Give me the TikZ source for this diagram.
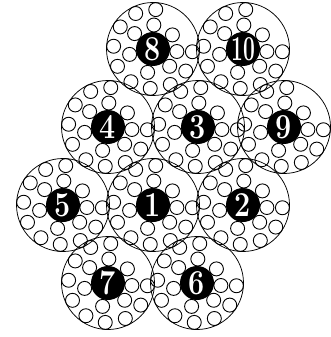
\documentclass[tikz,border=0pt]{standalone}
\usetikzlibrary{calc}
\begin{document}
\begin{tikzpicture}[x=1pt,y=-1pt,
  big/.style={draw=black, line width=0.75pt},
  dot/.style={draw=black, line width=0.9pt},
  disk/.style={circle, fill=black, minimum size=34pt, inner sep=0pt, text=white,
    font=\bfseries\fontsize{35}{35}\selectfont}]
\useasboundingbox (0,0) rectangle (330,337);
% cells: name/x/y
\foreach \n/\x/\y in {8/153/49, 10/243/49, 4/108/127, 3/198/127, 9/284/127,
                       5/63/205, 1/153/205, 2/243/205, 7/108/283, 6/197/283}{
  \coordinate (c\n) at (\x,\y);
  \draw[big] (c\n) circle[radius=46.5pt];
  \foreach \a in {86,116,...,356}{
    \draw[dot] ($(c\n)+(\a:39.5pt)$) circle[radius=7pt];
  }
  \foreach \a in {36,88,140,193,257,314,354}{
    \draw[dot] ($(c\n)+(\a:24pt)$) circle[radius=7pt];
  }
}
\foreach \n in {8,4,3,9,5,1,2,7,6}{
  \node[disk] (d\n) at (c\n) {\scalebox{0.82}[1]{\n}};
}
\node[disk] (d10) at (c10) {\scalebox{0.6}[1]{10}};
\end{tikzpicture}
\end{document}
